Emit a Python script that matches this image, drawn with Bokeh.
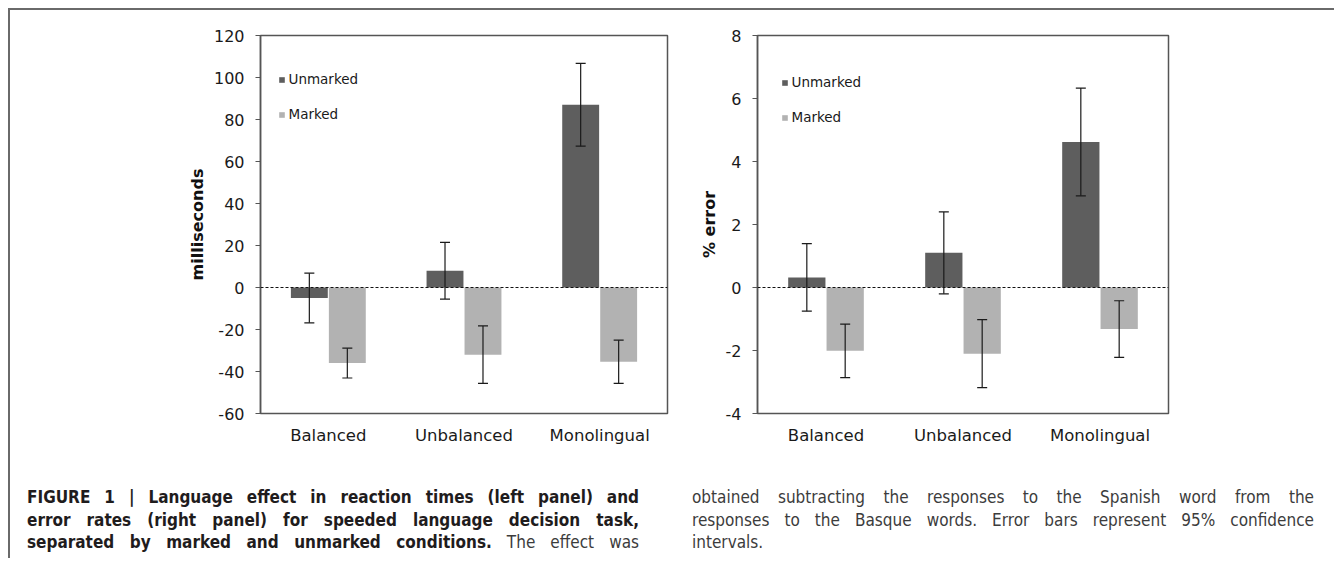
from bokeh.plotting import figure
from bokeh.models import (FactorRange, ColumnDataSource, Whisker, TeeHead, Span,
                          FixedTicker, Legend, LegendItem, Div)
from bokeh.layouts import row, column
from bokeh.transform import dodge
from bokeh.embed import file_html
from bokeh.resources import INLINE

# ---------------- data ----------------
groups = ["Balanced", "Unbalanced", "Monolingual"]
series = ["Unmarked", "Marked"]

rt_unmarked = [-5.0, 8.0, 87.0]
rt_unmarked_ci = [11.8, 13.5, 19.7]
rt_marked = [-36.0, -32.0, -35.4]
rt_marked_ci = [7.1, 13.7, 10.3]
rt_ticks = [-60, -40, -20, 0, 20, 40, 60, 80, 100, 120]

err_unmarked = [0.32, 1.10, 4.62]
err_unmarked_ci = [1.07, 1.30, 1.71]
err_marked = [-2.01, -2.10, -1.32]
err_marked_ci = [0.85, 1.08, 0.90]
err_ticks = [-4, -2, 0, 2, 4, 6, 8]

DARK = "#5e5e5e"
LIGHT = "#b2b2b2"
FONT = "DejaVu Sans"


def make_panel(u, u_ci, m, m_ci, ticks, ylabel, width, height, mb, legend_loc):
    src = ColumnDataSource(dict(
        cat=groups, u=u, m=m,
        u_hi=[a + b for a, b in zip(u, u_ci)], u_lo=[a - b for a, b in zip(u, u_ci)],
        m_hi=[a + b for a, b in zip(m, m_ci)], m_lo=[a - b for a, b in zip(m, m_ci)],
    ))
    p = figure(x_range=FactorRange(factors=groups, range_padding=0),
               y_range=(ticks[0], ticks[-1]),
               width=width, height=height, output_backend="svg",
               toolbar_location=None,
               min_border_left=mb[0], min_border_right=mb[1],
               min_border_top=mb[2], min_border_bottom=mb[3])
    p.background_fill_color = "white"
    p.border_fill_color = "white"
    p.outline_line_color = "#555555"
    p.outline_line_width = 1.5
    p.xgrid.visible = False
    p.ygrid.visible = False

    off = 0.14
    ru = p.vbar(x=dodge("cat", -off, range=p.x_range), top="u", width=0.272,
                source=src, fill_color=DARK, line_color=None)
    rm = p.vbar(x=dodge("cat", off, range=p.x_range), top="m", width=0.272,
                source=src, fill_color=LIGHT, line_color=None)

    p.add_layout(Span(location=0, dimension="width", line_color="#111111",
                      line_dash="3 2", line_width=1, level="overlay"))

    for key, d in (("u", -off), ("m", off)):
        w = Whisker(base=dodge("cat", d, range=p.x_range), upper=key + "_hi",
                    lower=key + "_lo", source=src, line_color="#1a1a1a",
                    line_width=1.2, level="overlay",
                    upper_head=TeeHead(size=10, line_color="#1a1a1a", line_width=1.2),
                    lower_head=TeeHead(size=10, line_color="#1a1a1a", line_width=1.2))
        p.add_layout(w)

    leg = Legend(items=[LegendItem(label=series[0], renderers=[ru]),
                        LegendItem(label=series[1], renderers=[rm])],
                 location=legend_loc, glyph_width=7, glyph_height=7,
                 label_standoff=4, spacing=15, padding=0, margin=0,
                 label_height=20,
                 border_line_color=None, background_fill_alpha=0,
                 label_text_font=FONT, label_text_font_size="13.5px",
                 label_text_color="#1a1a1a")
    p.add_layout(leg)

    ya = p.yaxis[0]
    ya.ticker = FixedTicker(ticks=ticks)
    ya.major_label_overrides = {t: str(t) for t in ticks}
    ya.major_label_text_font = FONT
    ya.major_label_text_font_size = "16px"
    ya.major_label_text_color = "#1a1a1a"
    ya.major_tick_out = 5
    ya.major_tick_in = 0
    ya.minor_tick_out = 0
    ya.minor_tick_in = 0
    ya.major_label_standoff = 11
    ya.axis_line_color = "#555555"
    ya.axis_line_width = 1.5
    ya.major_tick_line_color = "#555555"
    ya.major_tick_line_width = 1.2
    ya.axis_label = ylabel
    ya.axis_label_text_font = FONT
    ya.axis_label_text_font_style = "bold"
    ya.axis_label_text_font_size = "16px"
    ya.axis_label_text_color = "#111111"
    ya.axis_label_standoff = 4

    xa = p.xaxis[0]
    xa.major_label_text_font = FONT
    xa.major_label_text_font_size = "16.5px"
    xa.major_label_text_color = "#1a1a1a"
    xa.major_tick_out = 0
    xa.major_tick_in = 0
    xa.axis_line_color = None
    xa.major_label_standoff = 12
    return p


FIG_H = 460
p1 = make_panel(rt_unmarked, rt_unmarked_ci, rt_marked, rt_marked_ci, rt_ticks,
                "milliseconds", 670, FIG_H, (250, 13, 25, 53), (17.5, 289))
p2 = make_panel(err_unmarked, err_unmarked_ci, err_marked, err_marked_ci, err_ticks,
                "% error", 654, FIG_H, (77, 166, 25, 57), (23.5, 286))

LINE = "text-align:justify;text-align-last:justify;white-space:nowrap;"
BASE = ("font-family:'Liberation Sans Narrow','DejaVu Sans Condensed','Roboto',sans-serif;"
        "font-stretch:condensed;font-size:17px;line-height:22.5px;color:#3c3c3c;")
B = "<b style='color:#1f1c1d'>"

left_html = (
    f"<div style=\"{BASE}padding:16px 12px 0 17px;width:641px;\">"
    f"<div style='{LINE}'>{B}FIGURE 1 | Language effect in reaction times (left panel) and</b></div>"
    f"<div style='{LINE}'>{B}error rates (right panel) for speeded language decision task,</b></div>"
    f"<div style='{LINE}'>{B}separated by marked and unmarked conditions.</b> The effect was</div>"
    "</div>"
)
right_html = (
    f"<div style=\"{BASE}padding:16px 4px 0 12px;width:638px;\">"
    f"<div style='{LINE}'>obtained subtracting the responses to the Spanish word from the</div>"
    f"<div style='{LINE}'>responses to the Basque words. Error bars represent 95% confidence</div>"
    "<div style='text-align:left;'>intervals.</div>"
    "</div>"
)

d1 = Div(text=left_html, width=670, height=88, margin=0)
d2 = Div(text=right_html, width=654, height=88, margin=0)

layout = column(row(p1, p2), row(d1, d2),
                styles={"border-top": "2px solid #6a6a6a",
                        "border-left": "2px solid #6a6a6a",
                        "margin-left": "8px",
                        "margin-top": "8px",
                        "background-color": "white"})

open("out.html", "w").write(file_html(layout, INLINE))
